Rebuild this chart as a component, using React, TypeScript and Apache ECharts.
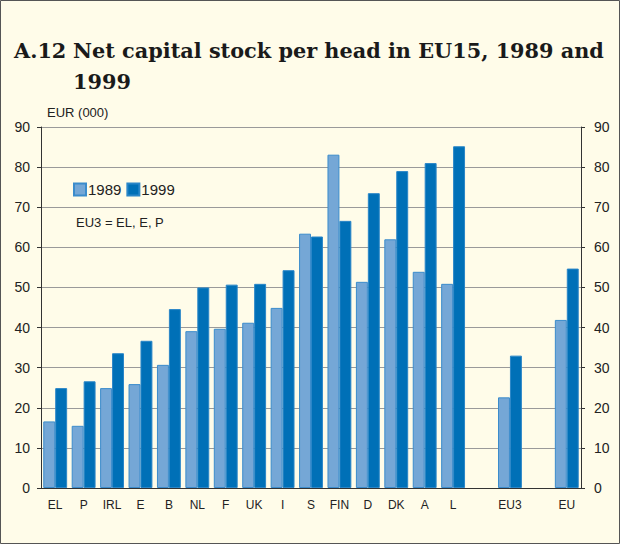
import React, { useEffect, useRef } from "react";
import * as echarts from "echarts";

const categories = ["EL", "P", "IRL", "E", "B", "NL", "F", "UK", "I", "S", "FIN", "D", "DK", "A", "L", "", "EU3", "", "EU"];
const values1989 = [16.6, 15.5, 24.9, 25.9, 30.7, 39.1, 39.7, 41.2, 44.9, 63.4, 83.1, 51.4, 62.0, 53.9, 50.9, null, 22.6, null, 41.9];
const values1999 = [24.9, 26.6, 33.6, 36.7, 44.6, 50.0, 50.7, 50.9, 54.3, 62.7, 66.6, 73.5, 79.0, 81.0, 85.2, null, 33.0, null, 54.7];
const seriesNames = ["1989", "1999"];
const yTicks = { min: 0, max: 90, interval: 10 };

export default function App() {
  const ref = useRef<HTMLDivElement>(null);
  useEffect(() => {
    if (!ref.current) return;
    const chart = echarts.init(ref.current, null, { renderer: "svg" });
    const sans = "Liberation Sans";
    const serif = "DejaVu Serif";
    const yAxisBase = {
      type: "value",
      min: yTicks.min,
      max: yTicks.max,
      interval: yTicks.interval,
      axisLine: { show: true, lineStyle: { color: "#333", width: 1 } },
      axisTick: { show: true, length: 4, lineStyle: { color: "#333" } },
      axisLabel: { fontSize: 14, color: "#222", fontFamily: sans },
    };
    chart.setOption({
      animation: false,
      backgroundColor: "#fffce9",
      textStyle: { fontFamily: sans },
      grid: { left: 41, right: 39, top: 127, bottom: 56, containLabel: false },
      legend: {
        data: seriesNames,
        left: 73,
        top: 182,
        padding: 0,
        itemWidth: 12,
        itemHeight: 12,
        itemGap: 5,
        icon: "rect",
        textStyle: { fontSize: 15, color: "#222", fontFamily: sans, padding: [0, 0, 0, -3] },
      },
      xAxis: {
        type: "category",
        data: categories,
        axisLine: { show: true, lineStyle: { color: "#333", width: 1 } },
        axisTick: { show: false },
        axisLabel: { fontSize: 12, color: "#222", margin: 11, interval: 0, fontFamily: sans },
      },
      yAxis: [
        {
          ...yAxisBase,
          position: "left",
          axisLabel: { ...yAxisBase.axisLabel, margin: 11 },
          splitLine: { show: true, lineStyle: { color: "#9a9a9a", width: 1 } },
        },
        {
          ...yAxisBase,
          position: "right",
          axisLabel: { ...yAxisBase.axisLabel, margin: 13 },
          splitLine: { show: false },
        },
      ],
      series: [
        {
          name: seriesNames[0],
          type: "bar",
          data: values1989,
          barGap: "0%",
          barCategoryGap: "16%",
          itemStyle: { color: "#75a7d6", borderColor: "#3b8ccc", borderWidth: 1 },
        },
        {
          name: seriesNames[1],
          type: "bar",
          data: values1999,
          barGap: "0%",
          barCategoryGap: "16%",
          itemStyle: { color: "#0070b7", borderColor: "#2a86c8", borderWidth: 1 },
        },
      ],
      graphic: [
        {
          type: "rect",
          shape: { x: 0.5, y: 0.5, width: 619, height: 543 },
          style: { fill: "none", stroke: "#555", lineWidth: 1 },
          silent: true,
        },
        {
          type: "text",
          x: 14,
          y: 40,
          style: { text: "A.12", font: `bold 20.8px "${serif}"`, fill: "#1a1a1a", textVerticalAlign: "alphabetic" },
        },
        {
          type: "text",
          x: 73,
          y: 40,
          style: { text: "Net capital stock per head in EU15, 1989 and", font: `bold 20.8px "${serif}"`, fill: "#1a1a1a", textVerticalAlign: "alphabetic" },
        },
        {
          type: "text",
          x: 73,
          y: 71,
          style: { text: "1999", font: `bold 20.8px "${serif}"`, fill: "#1a1a1a", textVerticalAlign: "alphabetic" },
        },
        {
          type: "text",
          x: 47,
          y: 112,
          style: { text: "EUR (000)", font: `13px "${sans}"`, fill: "#222", textVerticalAlign: "middle" },
        },
        {
          type: "text",
          x: 76,
          y: 222,
          style: { text: "EU3 = EL, E, P", font: `13px "${sans}"`, fill: "#222", textVerticalAlign: "middle" },
        },
      ],
    });
    return () => chart.dispose();
  }, []);
  return <div ref={ref} style={{ position: "fixed", left: 0, top: 0, width: 620, height: 544 }} />;
}
